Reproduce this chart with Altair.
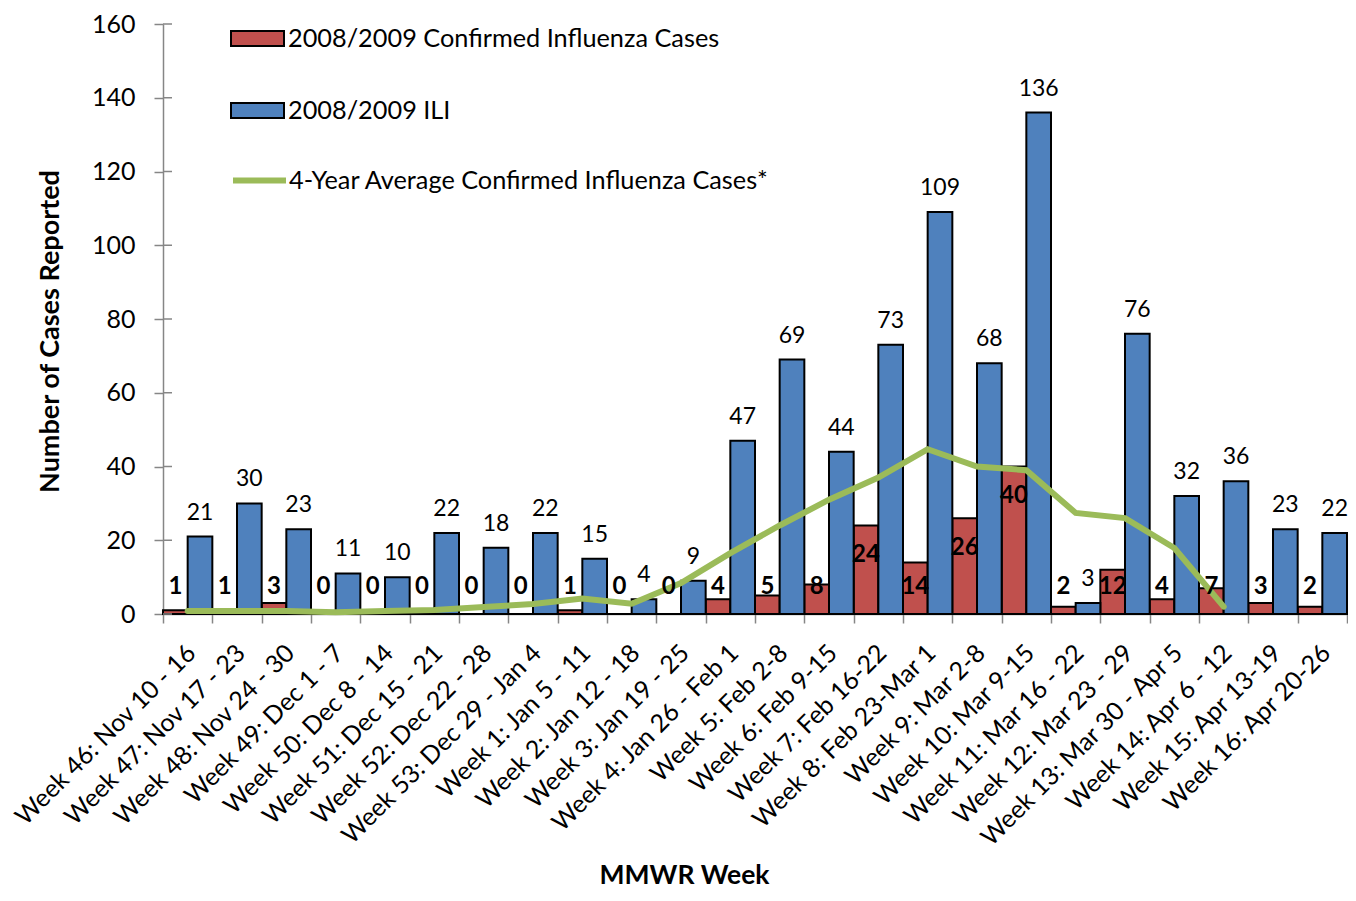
import altair as alt
import pandas as pd

weeks = [
    "Week 46: Nov 10 - 16", "Week 47: Nov 17 - 23", "Week 48: Nov 24 - 30",
    "Week 49: Dec 1 - 7", "Week 50: Dec 8 - 14", "Week 51: Dec 15 - 21",
    "Week 52: Dec 22 - 28", "Week 53: Dec 29 - Jan 4", "Week 1: Jan 5 - 11",
    "Week 2: Jan 12 - 18", "Week 3: Jan 19 -  25", "Week 4: Jan 26 - Feb 1",
    "Week 5: Feb 2-8", "Week 6: Feb 9-15", "Week 7: Feb 16-22",
    "Week 8: Feb 23-Mar 1", "Week 9: Mar 2-8", "Week 10: Mar 9-15",
    "Week 11: Mar 16 - 22", "Week 12: Mar 23 -  29", "Week 13:  Mar 30 - Apr 5",
    "Week 14: Apr 6 - 12", "Week 15: Apr 13-19", "Week 16: Apr 20-26",
]
confirmed = [1, 1, 3, 0, 0, 0, 0, 0, 1, 0, 0, 4, 5, 8, 24, 14, 26, 40, 2, 12, 4, 7, 3, 2]
ili = [21, 30, 23, 11, 10, 22, 18, 22, 15, 4, 9, 47, 69, 44, 73, 109, 68, 136, 3, 76, 32, 36, 23, 22]
avg4 = [0.8, 0.8, 0.8, 0.5, 0.8, 1.1, 1.9, 2.7, 4.2, 2.8, 8.4, 16.5, 24, 31, 37, 44.7,
        40, 39, 27.4, 26, 17.9, 2]
y_ticks = [0, 20, 40, 60, 80, 100, 120, 140, 160]

S_CONF = "2008/2009 Confirmed Influenza Cases"
S_ILI = "2008/2009 ILI"
S_AVG = "4-Year Average Confirmed Influenza Cases*"
RED = "#C0504D"
BLUE = "#4F81BD"
GREEN = "#9BBB59"
GRAY = "#868686"
FONT = "Lato"
YTITLE = "Number of Cases Reported"

bar_df = pd.DataFrame({
    "week": weeks * 2,
    "series": [S_CONF] * len(weeks) + [S_ILI] * len(weeks),
    "value": confirmed + ili,
})
line_df = pd.DataFrame({
    "week": weeks[:len(avg4)],
    "series": [S_AVG] * len(avg4),
    "value": avg4,
})
tick_df = pd.DataFrame({"value": y_ticks})

x_enc = alt.X(
    "week:N",
    scale=alt.Scale(domain=weeks, paddingInner=0, paddingOuter=0),
    axis=alt.Axis(
        title="MMWR Week", labelAngle=-45, labelFont=FONT, labelFontSize=25,
        labelColor="black", labelLimit=500, labelPadding=17, labelOffset=-5,
        tickBand="extent", tickSize=9, tickColor=GRAY, domainColor=GRAY,
        tickWidth=1.5, domainWidth=1.5,
        titleFont=FONT, titleFontSize=26.5, titleFontWeight="bold", titleColor="black",
        titleX=521, titleY=269, titleAlign="center", titleBaseline="alphabetic",
    ),
)
xoff = alt.XOffset("series:N", scale=alt.Scale(domain=[S_CONF, S_ILI], paddingInner=0, paddingOuter=0))
y_scale = alt.Scale(domain=[0, 160], nice=False)

rect_path = "M-1,-0.283L1,-0.283L1,0.283L-1,0.283Z"

bars = alt.Chart(bar_df).mark_bar(stroke="black", strokeWidth=2).encode(
    x=x_enc,
    xOffset=xoff,
    y=alt.Y("value:Q", scale=y_scale, title=YTITLE, axis=alt.Axis(
        values=y_ticks, grid=False, labelFont=FONT, labelFontSize=25,
        labelColor="black", labelPadding=19, tickSize=9, tickColor=GRAY, domainColor=GRAY,
        tickWidth=1.5, domainWidth=1.5,
        titleFont=FONT, titleFontSize=27, titleFontWeight="bold", titleColor="black",
        titleX=-113, titleY=307, titleAlign="center", titleBaseline="middle", titleAngle=-90,
    )),
    fill=alt.Fill("series:N", scale=alt.Scale(domain=[S_CONF, S_ILI], range=[RED, BLUE]),
                  legend=alt.Legend(
                      title=None, orient="none", legendX=67, legendY=-13, direction="vertical",
                      symbolType=rect_path, symbolSize=2809, symbolStrokeColor="black",
                      symbolStrokeWidth=2, labelFont=FONT, labelFontSize=25.3, labelColor="black",
                      labelLimit=800, labelOffset=3, rowPadding=31,
                  )),
)

# inner half of the y-axis ticks (the reference ticks cross the axis line)
inner_ticks = alt.Chart(tick_df).mark_rule(color=GRAY, strokeWidth=1.5).encode(
    y=alt.Y("value:Q", scale=y_scale, title=YTITLE),
    x=alt.value(0), x2=alt.value(9),
)

line = alt.Chart(line_df).mark_line(strokeWidth=6, strokeCap="round").encode(
    x=x_enc,
    y=alt.Y("value:Q", scale=y_scale, title=YTITLE),
    stroke=alt.Stroke("series:N", scale=alt.Scale(domain=[S_AVG], range=[GREEN]),
                      legend=alt.Legend(
                          title=None, orient="none", legendX=67, legendY=127,
                          symbolType="stroke", symbolSize=2809, symbolStrokeWidth=6,
                          labelFont=FONT, labelFontSize=25.3, labelColor="black",
                          labelLimit=800, labelOffset=0,
                      )),
)

conf_labels = alt.Chart(bar_df).transform_filter(
    alt.datum.series == S_CONF
).transform_calculate(
    ly="max(datum.value - 8, 7.3)"
).mark_text(font=FONT, fontSize=24, fontWeight="bold", color="black", baseline="middle").encode(
    x=x_enc,
    xOffset=xoff,
    y=alt.Y("ly:Q", scale=y_scale, title=YTITLE),
    text="value:Q",
)

ili_labels = alt.Chart(bar_df).transform_filter(
    alt.datum.series == S_ILI
).mark_text(font=FONT, fontSize=23, color="black", baseline="alphabetic", dy=-17).encode(
    x=x_enc,
    xOffset=xoff,
    y=alt.Y("value:Q", scale=y_scale, title=YTITLE),
    text="value:Q",
)

chart = alt.layer(bars, inner_ticks, line, conf_labels, ili_labels).properties(
    width=1184, height=590,
    autosize=alt.AutoSizeParams(type="none"),
    padding={"left": 155, "top": 16, "right": 1, "bottom": 279},
).configure_view(stroke=None)

chart.save("out.html", embed_options={"renderer": "svg", "actions": False})
